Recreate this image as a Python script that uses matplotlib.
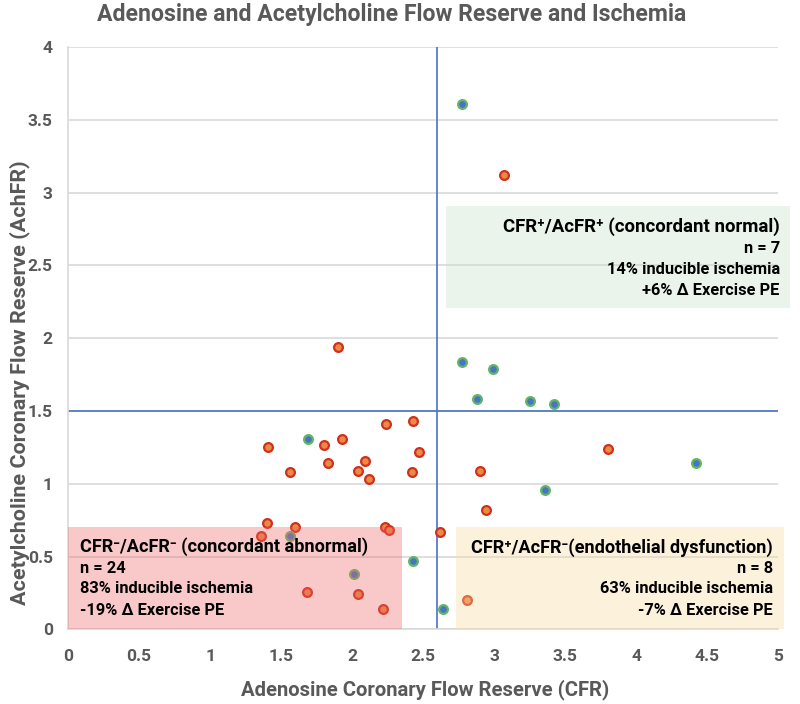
import matplotlib
matplotlib.use('Agg')
import matplotlib.pyplot as plt
from matplotlib.patches import Rectangle
from matplotlib import font_manager

# data
cfr_ischemia = [1.90, 2.24, 2.43, 1.41, 1.80, 1.93, 2.47, 1.83, 2.09, 1.56, 2.04, 2.42, 2.12,
                2.90, 2.94, 1.40, 1.60, 1.36, 2.23, 2.26, 2.62, 1.68, 2.04, 2.22, 2.81, 3.07, 3.80]
achfr_ischemia = [1.94, 1.41, 1.43, 1.25, 1.27, 1.31, 1.22, 1.14, 1.16, 1.08, 1.09, 1.08, 1.03,
                  1.09, 0.82, 0.73, 0.70, 0.64, 0.70, 0.68, 0.67, 0.26, 0.24, 0.14, 0.20, 3.12, 1.24]
cfr_no_ischemia = [2.77, 2.77, 2.99, 2.88, 3.25, 3.42, 1.69, 3.36, 4.42, 1.56, 2.01, 2.43, 2.64]
achfr_no_ischemia = [3.61, 1.84, 1.79, 1.58, 1.57, 1.55, 1.31, 0.96, 1.14, 0.64, 0.38, 0.47, 0.14]

cfr_cut = 2.6
achfr_cut = 1.5

x_ticks = [0, 0.5, 1, 1.5, 2, 2.5, 3, 3.5, 4, 4.5, 5]
x_ticklabels = ['0', '0.5', '1', '1.5', '2', '2.5', '3', '3.5', '4', '4.5', '5']
y_ticks = [0, 0.5, 1, 1.5, 2, 2.5, 3, 3.5, 4]
y_ticklabels = ['0', '0.5', '1', '1.5', '2', '2.5', '3', '3.5', '4']

# quadrant boxes: extent, colour, text lines
box_extents = [(2.66, 2.21, 5.08, 2.91), (0.0, 0.0, 2.35, 0.70), (2.73, 0.0, 5.04, 0.70)]
box_colors = ['#c3e0c3', '#eb6562', '#f9da9b']
box_lines = [
    ['CFR\u207a/AcFR\u207a (concordant normal)', 'n = 7', '14% inducible ischemia', '+6% \u0394 Exercise PE'],
    ['CFR\u207b/AcFR\u207b (concordant abnormal)', 'n = 24', '83% inducible ischemia', '-19% \u0394 Exercise PE'],
    ['CFR\u207a/AcFR\u207b(endothelial dysfunction)', 'n = 8', '63% inducible ischemia', '-7% \u0394 Exercise PE'],
]
box_align = ['right', 'left', 'right']
box_text_x = [5.01, 0.085, 4.96]
box_text_y = [[2.77, 2.62, 2.47, 2.33], [0.57, 0.42, 0.28, 0.13], [0.56, 0.42, 0.28, 0.13]]
head_width_px = [276, 287, 300]

names = {f.name for f in font_manager.fontManager.ttflist}
fam = [f for f in ['Roboto', 'Liberation Sans'] if f in names] + ['DejaVu Sans']
plt.rcParams['font.family'] = fam
plt.rcParams['font.weight'] = 'bold'

grey = '#595959'
fig = plt.figure(figsize=(8, 7.04), dpi=100)
ax = fig.add_axes([0.085, 0.106, 0.888, 0.827])
renderer = fig.canvas.get_renderer()


def fit(t, target_px):
    # shrink/grow a text so it spans about as many pixels as in the reference
    w = t.get_window_extent(renderer).width
    if t.get_rotation() == 90:
        w = t.get_window_extent(renderer).height
    t.set_fontsize(t.get_fontsize() * target_px / w)


ax.scatter(cfr_ischemia, achfr_ischemia, s=40, c='#ec8a45', edgecolors='#d0301e', linewidths=1.6, zorder=3)
ax.scatter(cfr_no_ischemia, achfr_no_ischemia, s=40, c='#4a72c8', edgecolors='#62b862', linewidths=1.6, zorder=3)

ax.axvline(cfr_cut, color='#4a72c8', lw=1.2, zorder=2)
ax.axhline(achfr_cut, color='#4a72c8', lw=1.2, zorder=2)

for k in range(3):
    x0, y0, x1, y1 = box_extents[k]
    ax.add_patch(Rectangle((x0, y0), x1 - x0, y1 - y0, facecolor=box_colors[k], alpha=0.35,
                           edgecolor='none', zorder=4, clip_on=False))
    texts = []
    for i, line in enumerate(box_lines[k]):
        t = ax.text(box_text_x[k], box_text_y[k][i], line, ha=box_align[k], va='center',
                    fontsize=12, color='black', zorder=5)
        texts.append(t)
    fit(texts[0], head_width_px[k])
    fit(texts[2], 172)
    for t in texts[1:]:
        t.set_fontsize(texts[2].get_fontsize())

ax.set_xlim(0, 5)
ax.set_ylim(0, 4)
ax.set_xticks(x_ticks)
ax.set_xticklabels(x_ticklabels)
ax.set_yticks(y_ticks)
ax.set_yticklabels(y_ticklabels)
ax.tick_params(length=0, labelsize=12.5, labelcolor=grey)
ax.tick_params(axis='x', pad=14)
ax.tick_params(axis='y', pad=11)
ax.grid(axis='y', color='#d9d9d9', lw=1.2, zorder=0)
ax.set_axisbelow(True)
for s in ['top', 'right']:
    ax.spines[s].set_visible(False)
for s in ['left', 'bottom']:
    ax.spines[s].set_color('#d9d9d9')
    ax.spines[s].set_linewidth(1.2)

xl = fig.text(0.531, 0.020, 'Adenosine Coronary Flow Reserve (CFR)', ha='center', va='center',
              fontsize=14, color=grey)
yl = fig.text(0.024, 0.457, 'Acetylcholine Coronary Flow Reserve (AchFR)', ha='center', va='center',
              rotation=90, fontsize=14, color=grey)
tl = fig.text(0.490, 0.980, 'Adenosine and Acetylcholine Flow Reserve and Ischemia', ha='center', va='center',
              fontsize=16, color=grey)
fit(xl, 371)
fit(yl, 445)
fit(tl, 590)

fig.savefig('out.png', dpi=100)
